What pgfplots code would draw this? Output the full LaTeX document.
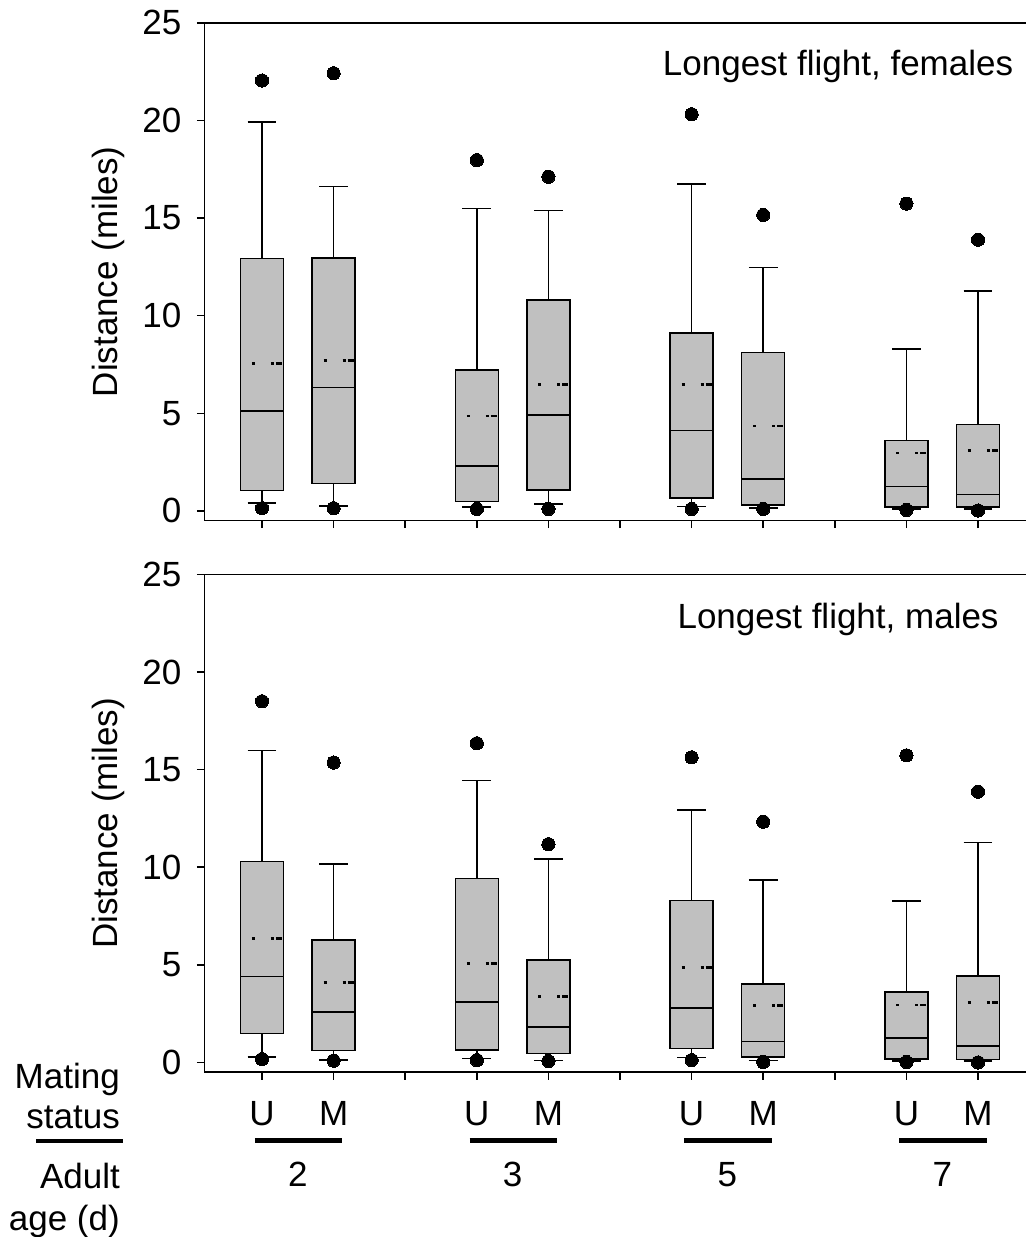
\documentclass[border=0pt]{standalone}
\usepackage{fontspec}
\setmainfont{Liberation Sans}
\usepackage{pgfplots}
\pgfplotsset{compat=1.18}
\usepgfplotslibrary{statistics}
\definecolor{boxgray}{RGB}{192,192,192}
\newcommand{\fs}{\fontsize{35}{42}\selectfont}

\pgfplotsset{
  flight/.style={
    scale only axis, width=821.7pt, height=497.8pt,
    xmin=0.194, xmax=11.67, ymin=-0.5, ymax=25,
    axis x line=box, axis y line=left, y axis line style={-},
    axis line style={line width=1.5pt},
    xtick={1,...,11}, ytick={0,5,...,25},
    xtick pos=left, ytick pos=left, tick align=outside,
    major tick length=7.5pt, tick style={line width=1.5pt, black},
    /pgf/number format/assume math mode=true,
    tick label style={font=\fs},
    yticklabel style={xshift=-12pt},
    xticklabel style={yshift=-18pt},
    clip=false,
    ylabel={Distance (miles)},
    every axis y label/.style={at={(axis description cs:-0.1172,0.5)},rotate=90,anchor=center,font=\fs},
    boxplot/draw direction=y,
    boxplot/box extend=0.6, boxplot/whisker extend=0.4,
    boxplot/draw/average/.code={
      \draw[line width=2.5pt, fill=none, dash pattern=on 3pt off 16pt on 3pt off 2pt on 6pt]
        (boxplot box cs:\pgfplotsboxplotvalue{average},0.266) --
        (boxplot box cs:\pgfplotsboxplotvalue{average},0.97);
    },
  },
  bx/.style={boxplot prepared={#1}, draw=black, fill=boxgray, line width=1.5pt,
    mark=*, mark size=6.6pt, mark options={fill=black, draw=black, line width=0pt}},
}

\begin{document}
\begin{tikzpicture}
\useasboundingbox (0,0) rectangle (1026pt,1237pt);

% females
\begin{axis}[flight, at={(204.3pt,716.3pt)}, anchor=south west, xticklabels={}]
\addplot[bx={draw position=1, lower whisker=0.41, lower quartile=1.04, median=5.12, upper quartile=12.92, upper whisker=19.93, average=7.56}]
  table[row sep=\\, y index=0] {y\\ 22.05\\ 0.14\\};
\addplot[bx={draw position=2, lower whisker=0.25, lower quartile=1.41, median=6.31, upper quartile=12.95, upper whisker=16.61, average=7.70}]
  table[row sep=\\, y index=0] {y\\ 22.42\\ 0.14\\};
\addplot[bx={draw position=4, lower whisker=0.19, lower quartile=0.48, median=2.30, upper quartile=7.21, upper whisker=15.49, average=4.86}]
  table[row sep=\\, y index=0] {y\\ 17.97\\ 0.10\\};
\addplot[bx={draw position=5, lower whisker=0.35, lower quartile=1.08, median=4.91, upper quartile=10.80, upper whisker=15.39, average=6.47}]
  table[row sep=\\, y index=0] {y\\ 17.12\\ 0.10\\};
\addplot[bx={draw position=7, lower whisker=0.23, lower quartile=0.65, median=4.12, upper quartile=9.12, upper whisker=16.75, average=6.47}]
  table[row sep=\\, y index=0] {y\\ 20.32\\ 0.10\\};
\addplot[bx={draw position=8, lower whisker=0.16, lower quartile=0.30, median=1.63, upper quartile=8.11, upper whisker=12.47, average=4.35}]
  table[row sep=\\, y index=0] {y\\ 15.16\\ 0.10\\};
\addplot[bx={draw position=10, lower whisker=0.10, lower quartile=0.19, median=1.24, upper quartile=3.62, upper whisker=8.29, average=2.97}]
  table[row sep=\\, y index=0] {y\\ 15.74\\ 0.05\\};
\addplot[bx={draw position=11, lower whisker=0.09, lower quartile=0.19, median=0.85, upper quartile=4.43, upper whisker=11.27, average=3.09}]
  table[row sep=\\, y index=0] {y\\ 13.89\\ 0.02\\};
\node[font=\fs, anchor=base] at (axis cs:9.045,22.32) {Longest flight, females};
\end{axis}

% males
\begin{axis}[flight, at={(204.3pt,164.8pt)}, anchor=south west,
  xticklabels={U,M,,U,M,,U,M,,U,M}]
\addplot[bx={draw position=1, lower whisker=0.29, lower quartile=1.49, median=4.41, upper quartile=10.29, upper whisker=15.97, average=6.36}]
  table[row sep=\\, y index=0] {y\\ 18.50\\ 0.17\\};
\addplot[bx={draw position=2, lower whisker=0.12, lower quartile=0.60, median=2.58, upper quartile=6.28, upper whisker=10.17, average=4.10}]
  table[row sep=\\, y index=0] {y\\ 15.36\\ 0.09\\};
\addplot[bx={draw position=4, lower whisker=0.21, lower quartile=0.63, median=3.10, upper quartile=9.42, upper whisker=14.45, average=5.06}]
  table[row sep=\\, y index=0] {y\\ 16.35\\ 0.12\\};
\addplot[bx={draw position=5, lower whisker=0.09, lower quartile=0.46, median=1.81, upper quartile=5.25, upper whisker=10.43, average=3.37}]
  table[row sep=\\, y index=0] {y\\ 11.18\\ 0.07\\};
\addplot[bx={draw position=7, lower whisker=0.26, lower quartile=0.72, median=2.79, upper quartile=8.29, upper whisker=12.93, average=4.87}]
  table[row sep=\\, y index=0] {y\\ 15.63\\ 0.12\\};
\addplot[bx={draw position=8, lower whisker=0.09, lower quartile=0.29, median=1.06, upper quartile=4.02, upper whisker=9.35, average=2.92}]
  table[row sep=\\, y index=0] {y\\ 12.33\\ 0.02\\};
\addplot[bx={draw position=10, lower whisker=0.07, lower quartile=0.17, median=1.25, upper quartile=3.61, upper whisker=8.28, average=2.94}]
  table[row sep=\\, y index=0] {y\\ 15.73\\ 0.02\\};
\addplot[bx={draw position=11, lower whisker=0.07, lower quartile=0.15, median=0.84, upper quartile=4.43, upper whisker=11.27, average=3.08}]
  table[row sep=\\, y index=0] {y\\ 13.87\\ 0.00\\};
\node[font=\fs, anchor=base] at (axis cs:9.045,22.25) {Longest flight, males};
% age groups under the mating status labels
\draw[line width=4.3pt] (axis cs:0.9,-4) -- (axis cs:2.12,-4);
\draw[line width=4.3pt] (axis cs:3.9,-4) -- (axis cs:5.12,-4);
\draw[line width=4.3pt] (axis cs:6.9,-4) -- (axis cs:8.12,-4);
\draw[line width=4.3pt] (axis cs:9.9,-4) -- (axis cs:11.12,-4);
\node[font=\fs, anchor=base] at (axis cs:1.5,-6.35) {2};
\node[font=\fs, anchor=base] at (axis cs:4.5,-6.35) {3};
\node[font=\fs, anchor=base] at (axis cs:7.5,-6.35) {5};
\node[font=\fs, anchor=base] at (axis cs:10.5,-6.35) {7};
\end{axis}

% row labels on the left
\begin{scope}[every node/.style={font=\fs, anchor=base east, inner sep=0pt}]
\node at (120pt,148.7pt) {Mating};
\node at (120pt,108.7pt) {status};
\draw[line width=4.3pt] (36pt,96pt) -- (123pt,96pt);
\node at (120pt,48.7pt) {Adult};
\node at (120pt,6.5pt) {age (d)};
\end{scope}
\end{tikzpicture}
\end{document}
